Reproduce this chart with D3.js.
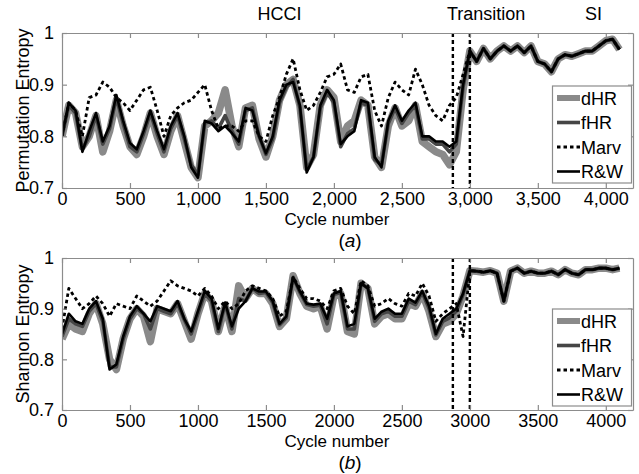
<!DOCTYPE html>
<html>
<head>
<meta charset="utf-8">
<script src="https://cdn.jsdelivr.net/npm/d3@7"></script>
<style>
  body { margin: 0; background: #fff; }
  svg text { font-family: "Liberation Sans", Arial, sans-serif; fill: #000; }
</style>
</head>
<body>
<svg id="chart" width="639" height="474"></svg>
<script>
// cycle grid (x values), HCCI part and SI part
const hcciCycles = d3.range(0, 3000, 50);
const siCycles = d3.range(3000, 4101, 50);
const allCycles = hcciCycles.concat(siCycles);

// ---- panel (a): permutation entropy ----
const peDHR = [0.80,0.86,0.845,0.78,0.80,0.84,0.77,0.81,0.87,0.82,
  0.78,0.765,0.80,0.845,0.80,0.765,0.81,0.84,0.79,0.74,
  0.72,0.82,0.83,0.845,0.89,0.82,0.78,0.855,0.86,0.795,
  0.76,0.80,0.87,0.90,0.91,0.86,0.74,0.765,0.86,0.89,
  0.875,0.79,0.82,0.83,0.87,0.86,0.76,0.74,0.82,0.855,
  0.82,0.83,0.86,0.79,0.78,0.77,0.765,0.745,0.77,0.89];
const peFHR = [0.80,0.86,0.845,0.775,0.80,0.84,0.785,0.815,0.875,0.825,
  0.78,0.77,0.805,0.845,0.805,0.77,0.815,0.84,0.795,0.745,
  0.725,0.825,0.83,0.815,0.84,0.81,0.785,0.85,0.855,0.80,
  0.765,0.795,0.865,0.895,0.91,0.855,0.735,0.76,0.855,0.885,
  0.865,0.78,0.805,0.815,0.865,0.86,0.755,0.745,0.825,0.855,
  0.825,0.845,0.86,0.795,0.795,0.785,0.785,0.77,0.785,0.895];
const peMarv = [0.80,0.865,0.85,0.80,0.875,0.88,0.905,0.895,0.875,0.865,
  0.85,0.87,0.89,0.895,0.85,0.80,0.84,0.855,0.865,0.87,
  0.885,0.90,0.85,0.815,0.82,0.82,0.81,0.83,0.83,0.80,
  0.79,0.84,0.875,0.92,0.95,0.89,0.85,0.86,0.885,0.915,
  0.92,0.94,0.89,0.885,0.915,0.92,0.85,0.82,0.875,0.905,
  0.89,0.88,0.93,0.90,0.86,0.84,0.83,0.86,0.875,0.92];
const peRW = [0.80,0.865,0.85,0.77,0.81,0.845,0.79,0.82,0.88,0.83,
  0.787,0.775,0.81,0.85,0.81,0.775,0.82,0.845,0.80,0.74,
  0.72,0.83,0.825,0.81,0.82,0.806,0.79,0.855,0.85,0.80,
  0.767,0.80,0.87,0.90,0.905,0.86,0.73,0.76,0.86,0.89,
  0.87,0.785,0.80,0.81,0.87,0.865,0.76,0.74,0.83,0.86,
  0.83,0.85,0.865,0.80,0.80,0.79,0.79,0.78,0.79,0.90];
const peSI = [0.965,0.945,0.97,0.95,0.965,0.975,0.965,0.975,0.962,0.975,
  0.945,0.94,0.925,0.95,0.958,0.955,0.96,0.965,0.965,0.975,
  0.985,0.988,0.968];

// ---- panel (b): Shannon entropy ----
const shDHR = [0.84,0.87,0.86,0.855,0.89,0.91,0.87,0.80,0.78,0.84,
  0.88,0.90,0.885,0.835,0.90,0.895,0.89,0.91,0.875,0.84,
  0.89,0.93,0.915,0.855,0.905,0.855,0.945,0.92,0.94,0.93,
  0.93,0.91,0.865,0.88,0.965,0.93,0.905,0.90,0.905,0.86,
  0.925,0.93,0.855,0.85,0.95,0.94,0.87,0.885,0.89,0.88,
  0.88,0.91,0.905,0.93,0.895,0.845,0.87,0.875,0.89,0.925];
const shFHR = [0.845,0.88,0.87,0.865,0.895,0.91,0.875,0.785,0.785,0.84,
  0.88,0.90,0.89,0.86,0.90,0.895,0.89,0.91,0.878,0.85,
  0.89,0.93,0.915,0.855,0.91,0.86,0.92,0.915,0.94,0.93,
  0.932,0.912,0.868,0.882,0.962,0.932,0.908,0.905,0.907,0.87,
  0.928,0.932,0.86,0.86,0.95,0.94,0.875,0.89,0.895,0.885,
  0.885,0.915,0.908,0.932,0.90,0.848,0.875,0.882,0.895,0.928];
const shMarv = [0.86,0.94,0.92,0.90,0.91,0.925,0.91,0.885,0.91,0.905,
  0.90,0.925,0.915,0.905,0.915,0.935,0.955,0.945,0.94,0.935,
  0.925,0.94,0.925,0.90,0.915,0.90,0.91,0.935,0.945,0.94,
  0.935,0.92,0.885,0.895,0.962,0.94,0.92,0.92,0.915,0.90,
  0.935,0.94,0.905,0.89,0.955,0.945,0.905,0.91,0.92,0.91,
  0.905,0.93,0.925,0.95,0.925,0.875,0.89,0.90,0.91,0.845];
const shRW = [0.85,0.89,0.875,0.87,0.90,0.915,0.88,0.78,0.79,0.845,
  0.885,0.905,0.89,0.875,0.905,0.90,0.895,0.915,0.88,0.855,
  0.895,0.935,0.92,0.86,0.912,0.865,0.90,0.915,0.94,0.934,
  0.934,0.915,0.87,0.885,0.962,0.934,0.91,0.908,0.91,0.88,
  0.93,0.935,0.865,0.87,0.95,0.94,0.88,0.894,0.90,0.89,
  0.89,0.92,0.912,0.935,0.905,0.85,0.88,0.89,0.90,0.93];
const shSI = [0.975,0.974,0.972,0.975,0.97,0.915,0.974,0.98,0.97,0.974,
  0.97,0.97,0.974,0.967,0.977,0.97,0.967,0.977,0.977,0.98,
  0.98,0.977,0.98];

const xTicks = [0, 500, 1000, 1500, 2000, 2500, 3000, 3500, 4000];
const yTicks = [0.7, 0.8, 0.9, 1];
const transitionLines = [2875, 3000];
const phaseLabels = [["HCCI", 1600], ["Transition", 3120], ["SI", 3910]];
const legendNames = ["dHR", "fHR", "Marv", "R&W"];

const styles = {
  "dHR":  {stroke: "#8a8a8a", width: 7.5, dash: null},
  "fHR":  {stroke: "#454545", width: 3.6, dash: null},
  "Marv": {stroke: "#000", width: 2.8, dash: "3.5,3"},
  "R&W":  {stroke: "#000", width: 2.6, dash: null}
};

const svg = d3.select("#chart");

function drawPanel(cfg) {
  const x = d3.scaleLinear().domain([0, 4200]).range([62, 633]);
  const y = d3.scaleLinear().domain([0.7, 1]).range([cfg.bottom, cfg.top]);
  const g = svg.append("g");

  const clipId = "clip" + cfg.id;
  g.append("clipPath").attr("id", clipId).append("rect")
    .attr("x", 62).attr("y", cfg.top).attr("width", 571).attr("height", cfg.bottom - cfg.top);

  const line = d3.line().x(d => x(d[0])).y(d => y(d[1]));
  const plot = g.append("g").attr("clip-path", "url(#" + clipId + ")");

  cfg.series.forEach(function(s) {
    const st = styles[s.name];
    const pts = allCycles.map((c, i) => [c, s.values[i]]);
    plot.append("path").datum(pts)
      .attr("d", line)
      .attr("fill", "none")
      .attr("stroke", st.stroke)
      .attr("stroke-width", st.width)
      .attr("stroke-linejoin", "round")
      .attr("stroke-dasharray", st.dash);
  });

  // transition markers
  transitionLines.forEach(function(c) {
    g.append("line").attr("x1", x(c)).attr("x2", x(c))
      .attr("y1", cfg.top).attr("y2", cfg.bottom)
      .attr("stroke", "#000").attr("stroke-width", 2.4).attr("stroke-dasharray", "4,3");
  });

  // frame and ticks (inward, mirrored)
  const fmt = cfg.comma ? d3.format(",") : d3.format("d");
  const axB = d3.axisBottom(x).tickValues(xTicks).tickSizeInner(-5).tickSizeOuter(0).tickPadding(4).tickFormat(fmt);
  const axT = d3.axisTop(x).tickValues(xTicks).tickSizeInner(-5).tickSizeOuter(0).tickFormat("");
  const axL = d3.axisLeft(y).tickValues(yTicks).tickSizeInner(-5).tickSizeOuter(0).tickPadding(8).tickFormat(d => d === 1 ? "1" : d3.format(".1f")(d));
  const axR = d3.axisRight(y).tickValues(yTicks).tickSizeInner(-5).tickSizeOuter(0).tickFormat("");

  [[axB, "translate(0," + cfg.bottom + ")"], [axT, "translate(0," + cfg.top + ")"],
   [axL, "translate(62,0)"], [axR, "translate(633,0)"]].forEach(function(a) {
    const ag = g.append("g").attr("transform", a[1]).call(a[0]);
    ag.selectAll("path, line").attr("stroke", "#8c8c8c").attr("stroke-width", 1.2);
    ag.selectAll("text").attr("font-size", 18).attr("fill", "#000")
      .style("font-family", "Liberation Sans, Arial, sans-serif");
  });

  // axis titles
  g.append("text").attr("x", 337).attr("y", cfg.bottom + 37)
    .attr("text-anchor", "middle").attr("font-size", 17).text("Cycle number");
  g.append("text")
    .attr("transform", "translate(29," + ((cfg.top + cfg.bottom) / 2) + ") rotate(-90)")
    .attr("text-anchor", "middle").attr("font-size", 18).text(cfg.ylabel);
  const lab = g.append("text").attr("x", 350).attr("y", cfg.bottom + 59)
    .attr("text-anchor", "middle").attr("font-size", 19);
  lab.append("tspan").text("(");
  lab.append("tspan").attr("font-style", "italic").text(cfg.letter);
  lab.append("tspan").text(")");

  // legend
  const lg = g.append("g");
  lg.append("rect").attr("x", 552.5).attr("y", cfg.legendTop).attr("width", 79).attr("height", 97)
    .attr("fill", "#fff").attr("stroke", "#8c8c8c").attr("stroke-width", 1.2);
  legendNames.forEach(function(n, i) {
    const st = styles[n];
    const ly = cfg.legendTop + 12 + i * 24.5;
    lg.append("line").attr("x1", 557).attr("x2", 580).attr("y1", ly).attr("y2", ly)
      .attr("stroke", st.stroke).attr("stroke-width", n === "dHR" ? 6 : st.width)
      .attr("stroke-dasharray", st.dash);
    lg.append("text").attr("x", 581).attr("y", ly + 6.5).attr("font-size", 18).text(n);
  });
}

drawPanel({
  id: "a", top: 33, bottom: 188, comma: true, ylabel: "Permutation Entropy", letter: "a", legendTop: 86,
  series: [
    {name: "dHR", values: peDHR.concat(peSI)},
    {name: "fHR", values: peFHR.concat(peSI)},
    {name: "Marv", values: peMarv.concat(peSI)},
    {name: "R&W", values: peRW.concat(peSI)}
  ]
});
drawPanel({
  id: "b", top: 258, bottom: 410, comma: false, ylabel: "Shannon Entropy", letter: "b", legendTop: 309,
  series: [
    {name: "dHR", values: shDHR.concat(shSI)},
    {name: "fHR", values: shFHR.concat(shSI)},
    {name: "Marv", values: shMarv.concat(shSI)},
    {name: "R&W", values: shRW.concat(shSI)}
  ]
});

// phase labels above panel (a)
const xTop = d3.scaleLinear().domain([0, 4200]).range([62, 633]);
phaseLabels.forEach(function(p) {
  svg.append("text").attr("x", xTop(p[1])).attr("y", 20)
    .attr("text-anchor", "middle").attr("font-size", 18).text(p[0]);
});
</script>
</body>
</html>
